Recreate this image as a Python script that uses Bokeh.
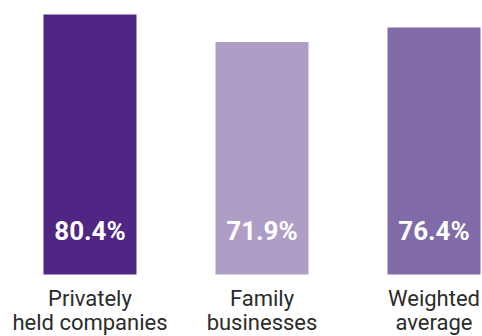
from bokeh.plotting import figure
from bokeh.models import ColumnDataSource, Range1d
from bokeh.core.properties import value
from bokeh.embed import file_html
from bokeh.resources import INLINE

# Share of companies, by ownership type
categories = ["Privately\nheld companies", "Family\nbusinesses", "Weighted\naverage"]
shares = [80.4, 71.9, 76.4]
bar_colors = ["#4F2683", "#AE9EC6", "#806AA8"]

source = ColumnDataSource(data=dict(
    pos=list(range(len(categories))),
    share=shares,
    label=[f"{v:.1f}%" for v in shares],
    category=categories,
    color=bar_colors,
))

p = figure(
    width=482, height=336,
    x_range=Range1d(-0.5203, 2.282),
    y_range=Range1d(-19.17, 84.72),
    output_backend="svg", toolbar_location=None,
    min_border=0, outline_line_color=None,
)
p.axis.visible = False
p.grid.visible = False
p.background_fill_color = "white"
p.border_fill_color = "white"

p.vbar(x="pos", top="share", bottom=0, width=0.5407, color="color",
       line_color=None, source=source)

# value inside each bar, near its base
p.text(x="pos", y=0, text="label", source=source,
       text_color="white", text_font=value("Roboto"), text_font_style="bold",
       text_font_size="26px", text_align="center", text_baseline="alphabetic",
       y_offset=-44)

# two-line category names under the bars
p.text(x="pos", y=0, text="category", source=source,
       text_color="#2b2b2b", text_font=value("Roboto"),
       text_font_size="22px", text_align="center", text_baseline="alphabetic",
       text_line_height=0.98, y_offset=36)

open("out.html", "w").write(file_html(p, INLINE))
